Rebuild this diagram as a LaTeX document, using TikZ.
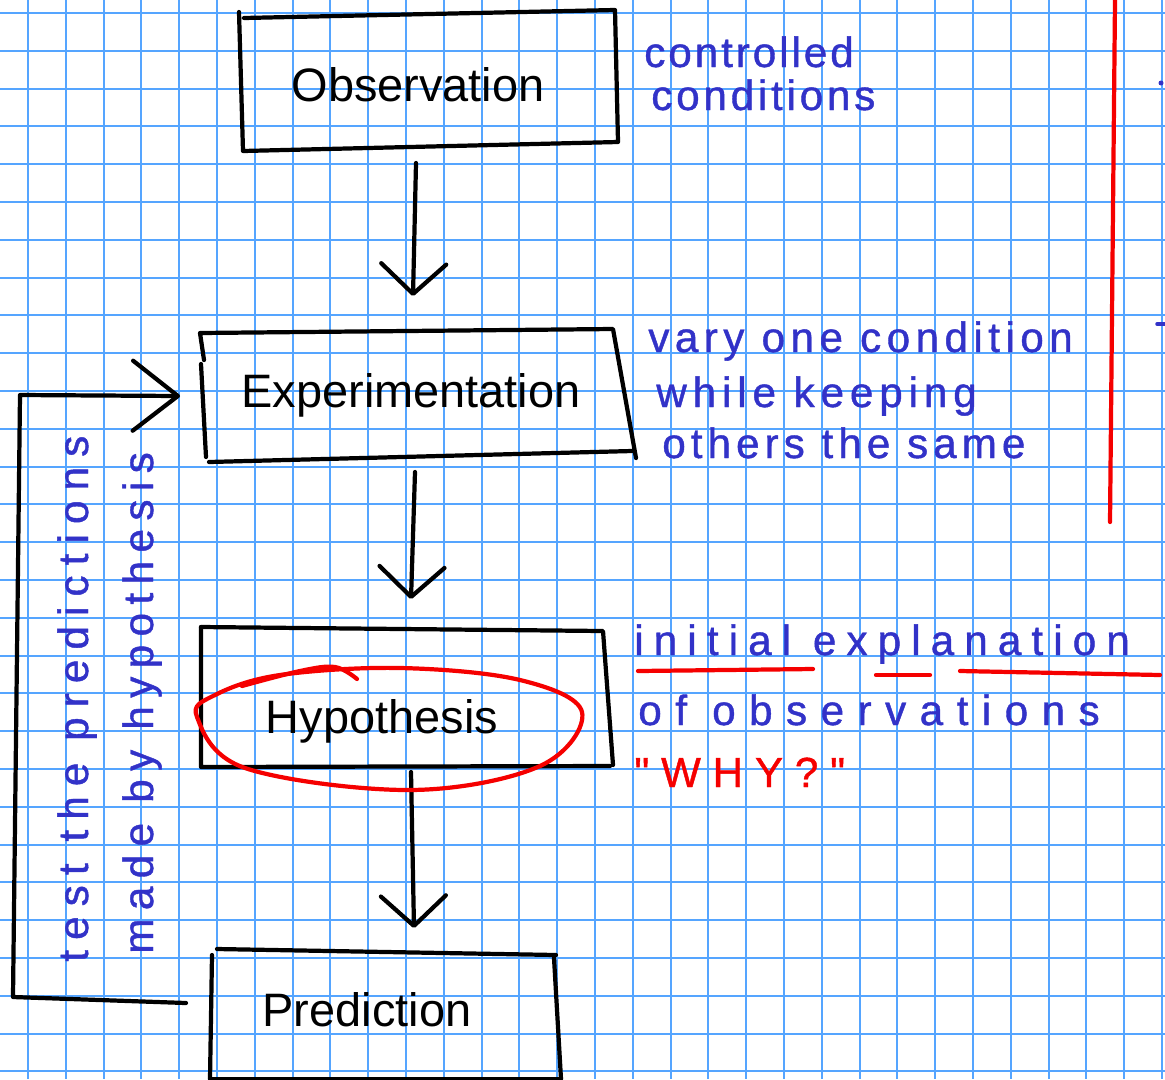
\documentclass[tikz,border=0pt]{standalone}
\usepackage{fontspec}
\setmainfont{Liberation Sans}
\newfontfamily\handfont[FakeBold=1]{Liberation Sans}
\usetikzlibrary{arrows.meta}
\definecolor{gridblue}{RGB}{85,165,255}
\definecolor{inkblue}{RGB}{50,50,200}
\definecolor{inkred}{RGB}{245,0,0}

\begin{document}
\begin{tikzpicture}[x=0.02cm, y=-0.02cm,
  box text/.style={font=\fontsize{26.7}{32}\selectfont, inner sep=0, anchor=base},
  hand/.style={draw=black, line width=2.4pt, line cap=round, line join=round},
  flow/.style={hand, -{Straight Barb[length=6mm, width=13mm, round]}},
  back flow/.style={hand, -{Straight Barb[length=9mm, width=14mm, round]}},
  note/.style={text=inkblue, font=\handfont\fontsize{24}{28}\selectfont\addfontfeature{LetterSpace=#1},
    inner sep=0, anchor=base west},
  note/.default=12,
  red note/.style={note=#1, text=inkred},
  red pen/.style={draw=inkred, line width=2.4pt, line cap=round, line join=round},
  grid line/.style={draw=gridblue, line width=1.1pt}]

  % graph paper
  \fill[white] (0,0) rectangle (1165,1079);
  \useasboundingbox (0,0) rectangle (1165,1079);
  \foreach \i in {0,...,30} \draw[grid line] ({28+37.8*\i},0) -- ++(0,1079);
  \foreach \j in {0,...,28} \draw[grid line] (0,{13+37.8*\j}) -- ++(1165,0);

  % boxes
  \node[box text] (obs) at (418,101) {Observation};
  \draw[hand] (239,12) -- (243,151) -- (618,142) -- (615,10) -- (244,18);
  \node[box text] (expt) at (411,407) {Experimentation};
  \draw[hand] (204,360) -- (200,333) -- (613,329) -- (636,458);
  \draw[hand] (201,364) -- (206,457);
  \draw[hand] (209,462) -- (632,451);
  \node[box text] (hyp) at (382,733) {Hypothesis};
  \draw[hand] (201,627) -- (201,767) -- (610,766);
  \draw[hand] (201,627) -- (603,631) -- (613,765);
  \node[box text] (pred) at (367,1026) {Prediction};
  \draw[hand] (212,955) -- (210,1079);
  \draw[hand] (217,949) -- (556,955);
  \draw[hand] (554,958) -- (561,1079);
  \draw[hand] (210,1079) -- (561,1079);

  % arrows
  \coordinate (obs-out) at (416,163);
  \coordinate (expt-in) at (413,296);
  \coordinate (expt-out) at (415,472);
  \coordinate (hyp-in) at (411,599);
  \coordinate (hyp-out) at (411,772);
  \coordinate (pred-in) at (414,928);
  \coordinate (pred-back) at (186,1003);
  \coordinate (expt-back) at (180,396);
  \draw[flow] (obs-out) -- (expt-in);
  \draw[flow] (expt-out) -- (hyp-in);
  \draw[flow] (hyp-out) -- (pred-in);
  \draw[back flow] (pred-back) -- (13,997) -- (20,395) -- (expt-back);

  % red marks
  \draw[red pen] plot[smooth cycle, tension=0.6] coordinates {(197,717) (245,768) (410,790) (540,766) (582,712) (520,680) (400,668) (280,675) (215,695)};
  \draw[red pen] plot[smooth, tension=0.6] coordinates {(242,686) (300,671) (335,667) (357,679)};
  \draw[red pen] (1115,0) -- (1110,522);
  \draw[red pen] (638,671) -- (813,669);
  \draw[red pen] (876,675) -- (930,675);
  \draw[red pen] (960,671) -- (1160,675);

  % notes
  \node[note=7] (n1) at (644,67) {controlled};
  \node[note=9] (n2) at (651,110) {conditions};
  \node[note=13] (n3) at (648,352) {vary one condition};
  \node[note=14] (n4) at (656,407) {while keeping};
  \node[note=12] (n5) at (662,458) {others the same};
  \node[note=24] (n6) at (634,655) {initial explanation};
  \node[note=32] (n7) at (638,725) {of observations};
  \node[red note=28] (n8) at (634,787) {"WHY?"};
  \node[note=24, rotate=90] (n9) at (88,962) {test the predictions};
  \node[note=20, rotate=90] (n10) at (153,954) {made by hypothesis};
  \fill[inkblue] (1161,83) circle (2.5);
  \draw[inkblue, line width=2pt, line cap=round] (1157,324) -- (1165,324);
\end{tikzpicture}
\end{document}
